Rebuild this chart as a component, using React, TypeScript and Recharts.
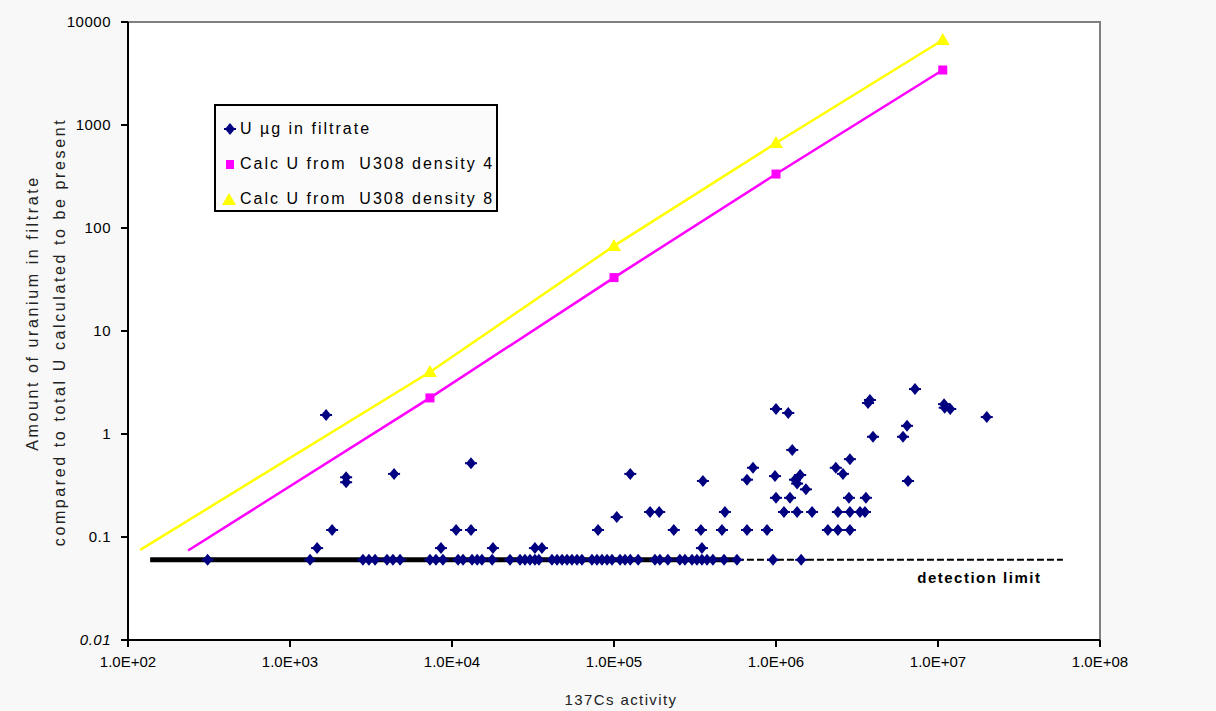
import React from "react";
import { ScatterChart, Scatter, XAxis, YAxis, ReferenceArea, ReferenceDot, Legend } from "recharts";

const FONT = '"Liberation Sans", Arial, sans-serif';

// 137Cs activity ticks and U ticks (log axes)
const xTicks = [1e2, 1e3, 1e4, 1e5, 1e6, 1e7, 1e8];
const yTicks = [0.01, 0.1, 1, 10, 100, 1000, 10000];

const DETECTION_LIMIT = 0.06;

// filtrate samples sitting on the detection limit
const belowLimitX = [
  310, 1330, 2820, 3070, 3350, 3970, 4320, 4780, 7310, 7960, 8790,
  10900, 11700, 13300, 14300, 15300, 17700, 22800, 26300, 28200, 30300,
  32500, 34400, 41400, 44500, 47800, 51300, 55000, 59100, 63400, 73100,
  78500, 84300, 90600, 97200, 109000, 117000, 126000, 141000, 179000,
  192000, 215000, 255000, 274000, 303000, 325000, 349000, 375000, 408000,
  478000, 574000, 958000, 1430000,
];

// filtrate samples above the detection limit
const filtrateX = [
  1470, 1670, 1820, 2220, 2220, 4390, 8550, 10600,
  13100, 13100, 17900, 32500, 35900, 79700, 104000, 126000,
  167000, 190000, 234000, 344000, 349000, 354000, 464000, 484000,
  662000, 662000, 721000, 880000, 986000, 1000000, 1000000, 1120000,
  1190000, 1220000, 1260000, 1310000, 1350000, 1350000, 1410000, 1530000,
  1670000, 2090000, 2340000, 2410000, 2410000, 2590000, 2820000, 2860000,
  2860000, 2860000, 3300000, 3540000, 3590000, 3700000, 3800000, 3970000,
  6080000, 6440000, 6530000, 7210000, 10900000, 11000000, 11900000, 20000000,
];
const filtrateY = [
  0.078, 1.53, 0.117, 0.38, 0.34, 0.41, 0.078, 0.117,
  0.52, 0.117, 0.078, 0.078, 0.078, 0.117, 0.156, 0.41,
  0.175, 0.175, 0.117, 0.117, 0.078, 0.35, 0.117, 0.175,
  0.117, 0.36, 0.47, 0.117, 0.39, 0.24, 1.75, 0.175,
  1.6, 0.24, 0.7, 0.36, 0.175, 0.33, 0.4, 0.29,
  0.175, 0.117, 0.47, 0.175, 0.117, 0.41, 0.24, 0.57,
  0.175, 0.117, 0.175, 0.175, 0.24, 2.0, 2.14, 0.94,
  0.94, 1.2, 0.35, 2.73, 1.95, 1.8, 1.75, 1.46,
];

// calculated U from U3O8 (marker points + start of the trend line)
const calcX = [7310, 100000, 1000000, 10700000];
const calc4Y = [2.24, 33, 334, 3420];
const calc8Y = [4.0, 67, 668, 6690];
const calc4Start = { x: 235, y: 0.074 };
const calc8Start = { x: 119, y: 0.075 };

// detection limit line extents
const limitSolid = [137, 574000];
const limitDashed = [574000, 59000000];

const filtrate = [
  ...belowLimitX.map(x => ({ x, y: DETECTION_LIMIT })),
  ...filtrateX.map((x, i) => ({ x, y: filtrateY[i] })),
];
const calc4Marks = calcX.map((x, i) => ({ x, y: calc4Y[i] }));
const calc8Marks = calcX.map((x, i) => ({ x, y: calc8Y[i] }));
const calc4Line = [calc4Start, ...calc4Marks];
const calc8Line = [calc8Start, ...calc8Marks];
const solidLine = limitSolid.map(x => ({ x, y: DETECTION_LIMIT }));
const dashedLine = limitDashed.map(x => ({ x, y: DETECTION_LIMIT }));

const NAVY = "#000080";
const MAGENTA = "#ff00ff";
const YELLOW = "#ffff00";

function Diamond({ cx, cy }: any) {
  return (
    <g>
      <path d={`M${cx - 5},${cy} L${cx},${cy - 6} L${cx + 5},${cy} L${cx},${cy + 6} Z`} fill={NAVY} />
      <rect x={cx - 6} y={cy - 1} width={12} height={2} fill={NAVY} />
    </g>
  );
}
function Square({ cx, cy }: any) {
  return <rect x={cx - 4.5} y={cy - 4.5} width={9} height={9} fill={MAGENTA} />;
}
function Triangle({ cx, cy }: any) {
  return <path d={`M${cx},${cy - 7} L${cx + 7},${cy + 5} L${cx - 7},${cy + 5} Z`} fill={YELLOW} />;
}
const NoShape = () => <g />;

function XTick({ x, y, payload }: any) {
  const exp = Math.round(Math.log10(payload.value));
  return (
    <text x={x} y={y + 18} textAnchor="middle" fontFamily={FONT} fontSize={15} fill="#000">
      {`1.0E+${String(exp).padStart(2, "0")}`}
    </text>
  );
}
function YTick({ x, y, payload }: any) {
  return (
    <text x={x - 8} y={y + 5} textAnchor="end" fontFamily={FONT} fontSize={15} letterSpacing={0.5}
      fontStyle={payload.value === 0.01 ? "italic" : "normal"} fill="#000">
      {String(payload.value)}
    </text>
  );
}

const yTitle = (props: any) => (
  <g fontFamily={FONT} fontSize={16} letterSpacing={2.6} fill="#222">
    <text x={38} y={313} transform="rotate(-90 38 313)" textAnchor="middle">Amount of uranium in filtrate</text>
    <text x={65} y={332} transform="rotate(-90 65 332)" textAnchor="middle">compared to total U calculated to be present</text>
  </g>
);
const xTitle = (props: any) => (
  <text x={621} y={705} textAnchor="middle" fontFamily={FONT} fontSize={15} letterSpacing={1.4} fill="#222">
    137Cs activity
  </text>
);

const legendItems = [
  { label: "U µg in filtrate", shape: "diamond" },
  { label: "Calc U from  U308 density 4", shape: "square" },
  { label: "Calc U from  U308 density 8", shape: "triangle" },
];

const renderLegend = () => (
  <div style={{ width: 280, height: 104, border: "2px solid #000", background: "#fbfbfb", fontFamily: FONT, fontSize: 16, letterSpacing: 2, color: "#000", boxSizing: "content-box" }}>
    {legendItems.map((it, i) => (
      <div key={i} style={{ display: "flex", alignItems: "center", height: 35, marginTop: i === 0 ? 5 : 0, whiteSpace: "pre" }}>
        <svg width={24} height={16} style={{ flex: "none" }}>
          {it.shape === "diamond" && <Diamond cx={14} cy={8} />}
          {it.shape === "square" && <rect x={10} y={4} width={8} height={9} fill={MAGENTA} />}
          {it.shape === "triangle" && <path d="M13,2 L20,14 L6,14 Z" fill={YELLOW} />}
        </svg>
        <span>{it.label}</span>
      </div>
    ))}
  </div>
);

export default function App() {
  return (
    <div style={{ position: "absolute", left: 0, top: 0, width: 1216, height: 711, background: "#f8f8f8" }}>
      <ScatterChart width={1216} height={711} margin={{ top: 22, right: 116, bottom: 41, left: 0 }}>
        <ReferenceArea x1={100} x2={1e8} y1={0.01} y2={10000} fill="#fff" fillOpacity={1} stroke="#808080" strokeWidth={2} ifOverflow="visible" />
        <XAxis type="number" dataKey="x" scale="log" domain={[100, 1e8]} ticks={xTicks} allowDataOverflow
          height={30} tickSize={7} tick={<XTick />} stroke="#000" strokeWidth={2} tickLine={{ stroke: "#000", strokeWidth: 2 }}
          label={{ content: xTitle }} />
        <YAxis type="number" dataKey="y" scale="log" domain={[0.01, 10000]} ticks={yTicks} allowDataOverflow
          width={128} tickSize={7} tick={<YTick />} stroke="#000" strokeWidth={2} tickLine={{ stroke: "#000", strokeWidth: 2 }}
          label={{ content: yTitle }} />
        <Legend layout="vertical" align="center" verticalAlign="middle" content={renderLegend}
          wrapperStyle={{ left: 214, top: 104, width: 284, height: 108 }} />
        <Scatter name="limit" data={solidLine} line={{ stroke: "#000", strokeWidth: 5 }} shape={NoShape} isAnimationActive={false} legendType="none" />
        <Scatter name="limit dashed" data={dashedLine} line={{ stroke: "#000", strokeWidth: 2, strokeDasharray: "7 3" }} shape={NoShape} isAnimationActive={false} legendType="none" />
        <Scatter name="calc8 line" data={calc8Line} line={{ stroke: YELLOW, strokeWidth: 2.5 }} shape={NoShape} isAnimationActive={false} legendType="none" />
        <Scatter name="calc4 line" data={calc4Line} line={{ stroke: MAGENTA, strokeWidth: 2.5 }} shape={NoShape} isAnimationActive={false} legendType="none" />
        <Scatter name="U µg in filtrate" data={filtrate} shape={Diamond} isAnimationActive={false} />
        <Scatter name="Calc U from U308 density 4" data={calc4Marks} shape={Square} isAnimationActive={false} />
        <Scatter name="Calc U from U308 density 8" data={calc8Marks} shape={Triangle} isAnimationActive={false} />
        <ReferenceDot x={18000000} y={0.04} r={0} ifOverflow="visible"
          label={{ value: "detection limit", position: "center", fontFamily: FONT, fontSize: 15, fontWeight: "bold", letterSpacing: 1.5, fill: "#000" }} />
      </ScatterChart>
    </div>
  );
}
